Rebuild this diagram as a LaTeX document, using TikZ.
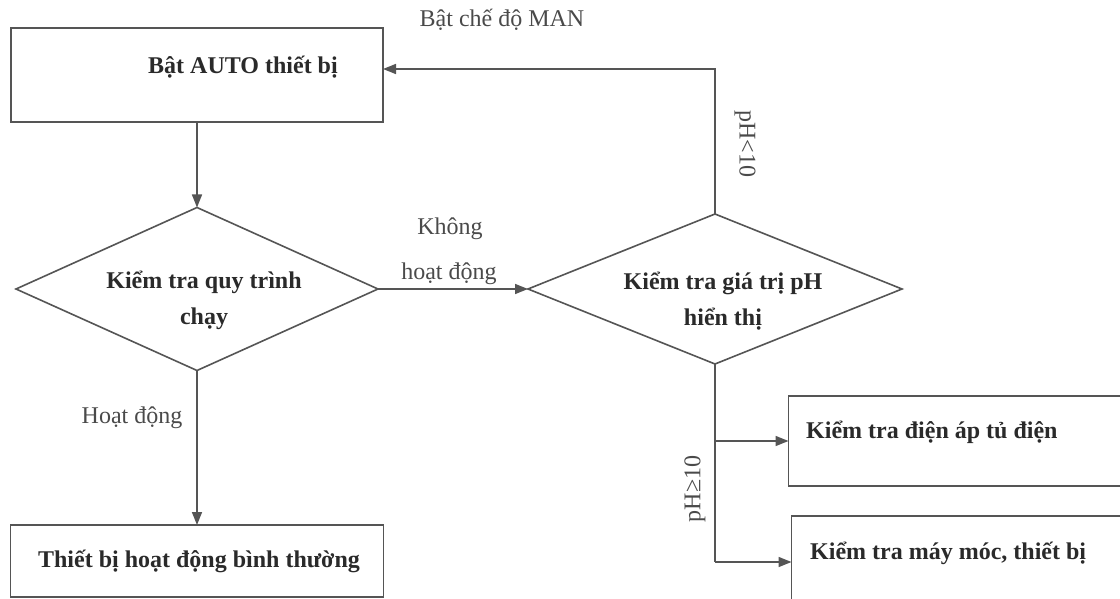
\documentclass[tikz,border=0pt]{standalone}
\usepackage{fontspec}
\setmainfont{Liberation Serif}
\usetikzlibrary{shapes.geometric,arrows.meta}
\definecolor{ink}{HTML}{2A2A2A}
\definecolor{edge}{HTML}{555555}
\definecolor{note}{HTML}{4A4A4A}
\begin{document}
\begin{tikzpicture}[x=1pt,y=-1pt,
  shapeline/.style={draw=edge,line width=1.6pt,inner sep=0pt,outer sep=0pt},
  stepbox/.style={shapeline,rectangle,minimum width=#1},
  decision/.style={shapeline,diamond},
  boldtext/.style={text=ink,inner sep=0pt,font=\fontsize{24}{36}\selectfont\bfseries,align=center},
  labeltext/.style={text=note,inner sep=0pt,font=\fontsize{24}{36}\selectfont},
  link/.style={draw=edge,line width=1.5pt},
  arrowlink/.style={link,-{Triangle[length=13pt,width=10pt]}}
]
\clip (0,0) rectangle (1120,599);
\fill[white] (0,0) rectangle (1120,599);

% boxes
\node[stepbox=372,minimum height=94] (b1) at (197,75) {};
\node[stepbox=373,minimum height=72] (b5) at (197,561) {};
\node[stepbox=345,minimum height=90] (b3) at (961,441) {};
\node[stepbox=345,minimum height=92] (b4) at (964,562) {};

% decisions
\node[decision,minimum width=362,minimum height=163] (d1) at (197,289) {};
\node[decision,minimum width=374,minimum height=150] (d2) at (715,289) {};

% box and decision texts
\node[boldtext] (t1) at (243,67) {Bật AUTO thiết bị};
\node[boldtext] (td1) at (204,300) {Kiểm tra quy trình\\chạy};
\node[boldtext] (td2) at (723,301) {Kiểm tra giá trị pH\\hiển thị};
\node[boldtext] (t5) at (199,561) {Thiết bị hoạt động bình thường};
\node[boldtext,anchor=west] (t3) at (806,432) {Kiểm tra điện áp tủ điện};
\node[boldtext,anchor=west] (t4) at (810,553) {Kiểm tra máy móc, thiết bị};

% connector labels
\node[labeltext] (lman) at (502,20) {Bật chế độ MAN};
\node[labeltext] (lkhong) at (450,229) {Không};
\node[labeltext] (lhd1) at (449,274) {hoạt động};
\node[labeltext] (lhd2) at (132,418) {Hoạt động};
\node[labeltext,rotate=-90] (llow) at (745,144) {pH<10};
\node[labeltext,rotate=90] (lhigh) at (695,489) {pH≥10};

% connectors
\coordinate (man) at (d2.north |- 0,69);
\coordinate (j2) at (d2.south |- b4.west);
\draw[arrowlink] (b1.south) -- (d1.north);
\draw[arrowlink] (d1.east) -- (d2.west);
\draw[arrowlink] (d1.south) -- (b5.north);
\draw[arrowlink] (d2.north) -- (man) -- (b1.east |- man);
\draw[link] (d2.south) -- (j2);
\draw[arrowlink] (d2.south |- b3.west) -- (b3.west);
\draw[arrowlink] (j2) -- (b4.west);
\end{tikzpicture}
\end{document}
